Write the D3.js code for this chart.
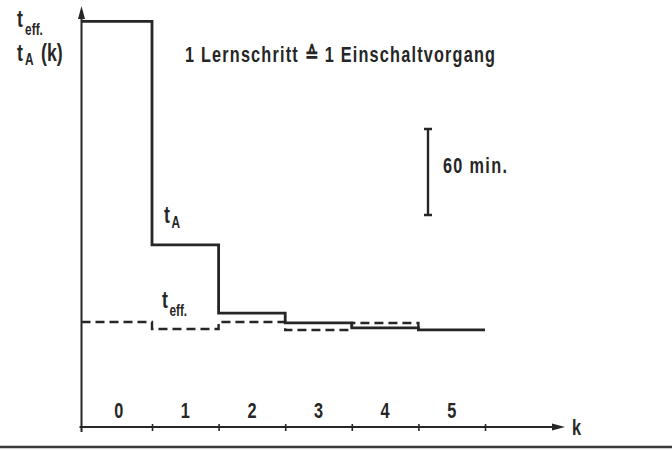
<!DOCTYPE html>
<html>
<head>
<meta charset="utf-8">
<script src="https://cdn.jsdelivr.net/npm/d3@7"></script>
<style>
  body { margin: 0; background: #fff; }
  svg text { font-family: "Liberation Sans", Arial, sans-serif; font-weight: bold; fill: #262626; }
</style>
</head>
<body>
<div id="chart"></div>
<script>
// learning steps k and times in minutes (60 min = scale bar)
const steps = [0, 1, 2, 3, 4, 5];
const tA = [283, 127, 79.5, 72.6, 69.1, 67.7];
const tEff = [73.3, 68.4, 73.3, 67.7, 72.6, 67.7];
const stepLabels = ["0", "1", "2", "3", "4", "5"];
const scaleBarMin = 60;

const width = 672, height = 451;
const ink = "#262626";
const sx = 0.74; // condensed lettering
const svg = d3.select("#chart").append("svg").attr("width", width).attr("height", height);

// text squeezed horizontally to mimic the condensed typewriter-stencil font
const ctext = (px, py, size, anchor) => svg.append("g")
  .attr("transform", `translate(${px},${py}) scale(${sx},1)`)
  .append("text").attr("font-size", size).attr("text-anchor", anchor || "start");

const axisX = 81.5, axisY = 427;
const x = d3.scaleLinear().domain([-0.5, 5.5]).range([85.4, 485]);
const y = d3.scaleLinear().domain([0, 295]).range([axisY, axisY - 295 * 86 / 60]);

// step line: each value held over [k-0.5, k+0.5], first step starts at the y axis
const stepPoints = vals => {
  const pts = [];
  vals.forEach((v, i) => {
    const x0 = i === 0 ? axisX : x(steps[i] - 0.5);
    pts.push([x0, y(v)], [x(steps[i] + 0.5), y(v)]);
  });
  return pts;
};
const line = d3.line();

// t_eff dashed (drawn first, solid on top)
const effPts = stepPoints(tEff.slice(0, 5));
effPts.push([x(4.5), y(tEff[5])]);
svg.append("path").attr("d", line(effPts))
  .attr("fill", "none").attr("stroke", ink).attr("stroke-width", 2.4)
  .attr("stroke-dasharray", "9,5");

svg.append("path").attr("d", line(stepPoints(tA)))
  .attr("fill", "none").attr("stroke", ink).attr("stroke-width", 2.8);

// axes with arrow heads
svg.append("line").attr("x1", axisX).attr("x2", axisX).attr("y1", axisY + 5).attr("y2", 18)
  .attr("stroke", ink).attr("stroke-width", 2);
svg.append("path").attr("d", `M${axisX - 3.5},19 L${axisX},6 L${axisX + 3.5},19 Z`).attr("fill", ink);

svg.append("line").attr("x1", axisX - 2).attr("x2", 553).attr("y1", axisY).attr("y2", axisY)
  .attr("stroke", ink).attr("stroke-width", 2);
svg.append("path").attr("d", `M552,${axisY - 3.5} L565,${axisY} L552,${axisY + 3.5} Z`).attr("fill", ink);

const xAxis = svg.append("g").attr("transform", `translate(0,${axisY})`)
  .call(d3.axisBottom(x).tickValues(steps.map(k => k + 0.5)).tickSize(4).tickFormat(""));
xAxis.select(".domain").remove();
xAxis.selectAll(".tick line").attr("y1", -3).attr("stroke", ink).attr("stroke-width", 1.6);

steps.forEach((k, i) => ctext(x(k), 418, 22, "middle").text(stepLabels[i]));
ctext(572, 435, 22).text("k");

// y axis label
const yl = ctext(17, 27, 24);
yl.append("tspan").text("t");
yl.append("tspan").attr("dx", 3).attr("dy", 8).attr("font-size", 16).text("eff.");
const yl2 = ctext(17, 61, 24);
yl2.append("tspan").text("t");
yl2.append("tspan").attr("dx", 3).attr("dy", 4).attr("font-size", 16).text("A");
yl2.append("tspan").attr("dx", 10).attr("dy", -4).text("(k)");

// curve labels
const la = ctext(164, 223, 24);
la.append("tspan").text("t");
la.append("tspan").attr("dx", 2).attr("dy", 5).attr("font-size", 16).text("A");
const le = ctext(162, 308, 24);
le.append("tspan").text("t");
le.append("tspan").attr("dx", 2).attr("dy", 8).attr("font-size", 16).text("eff.");

// title
ctext(185, 62, 22)
  .attr("textLength", 310 / sx).attr("lengthAdjust", "spacing")
  .text("1  Lernschritt ≙ 1 Einschaltvorgang");

// 60 min scale bar
const barX = 428, barTop = 129;
const barBottom = barTop + (y(0) - y(scaleBarMin));
svg.append("path")
  .attr("d", `M${barX},${barTop} V${barBottom} M${barX - 4},${barTop} H${barX + 4} M${barX - 4},${barBottom} H${barX + 4}`)
  .attr("stroke", ink).attr("stroke-width", 2.4).attr("fill", "none");
ctext(443, 173, 22).attr("textLength", 64 / sx).attr("lengthAdjust", "spacing").text("60 min.");

// bottom rule
svg.append("line").attr("x1", 0).attr("x2", width).attr("y1", 447).attr("y2", 447)
  .attr("stroke", "#3a3a3a").attr("stroke-width", 2.5);
</script>
</body>
</html>
